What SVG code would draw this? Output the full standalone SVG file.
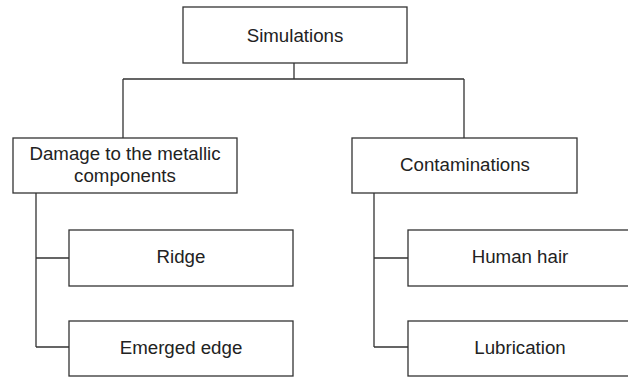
<svg xmlns="http://www.w3.org/2000/svg" width="628" height="377" viewBox="0 0 628 377">
<style>
.box{fill:#fff;stroke:#333;stroke-width:1.3}
.lbl{font-family:"Liberation Sans",Arial,sans-serif;font-size:18.7px;fill:#222;text-anchor:middle}
.con{fill:none;stroke:#333;stroke-width:1.3}
</style>
<rect width="628" height="377" fill="#fff"/>
<g id="connectors">
<path class="con" d="M294 63V79M123 79H464M123 79V138M464 79V138"/>
<path class="con" d="M36 193V347M36 258H69M36 347H69"/>
<path class="con" d="M374 193V347M374 258H408M374 347H408"/>
</g>
<g id="simulations"><rect class="box" x="183" y="7" width="224" height="56"/><text class="lbl" x="295" y="42">Simulations</text></g>
<g id="damage"><rect class="box" x="13" y="138" width="224" height="55"/><text class="lbl" x="125" y="160">Damage to the metallic</text><text class="lbl" x="125" y="182">components</text></g>
<g id="contaminations"><rect class="box" x="352" y="138" width="225" height="55"/><text class="lbl" x="465" y="171">Contaminations</text></g>
<g id="ridge"><rect class="box" x="69" y="230" width="224" height="56"/><text class="lbl" x="181" y="263">Ridge</text></g>
<g id="emerged"><rect class="box" x="69" y="321" width="224" height="55"/><text class="lbl" x="181" y="354">Emerged edge</text></g>
<g id="hair"><rect class="box" x="408" y="230" width="224" height="56"/><text class="lbl" x="520" y="263">Human hair</text></g>
<g id="lubrication"><rect class="box" x="408" y="321" width="224" height="55"/><text class="lbl" x="520" y="354">Lubrication</text></g>
</svg>
